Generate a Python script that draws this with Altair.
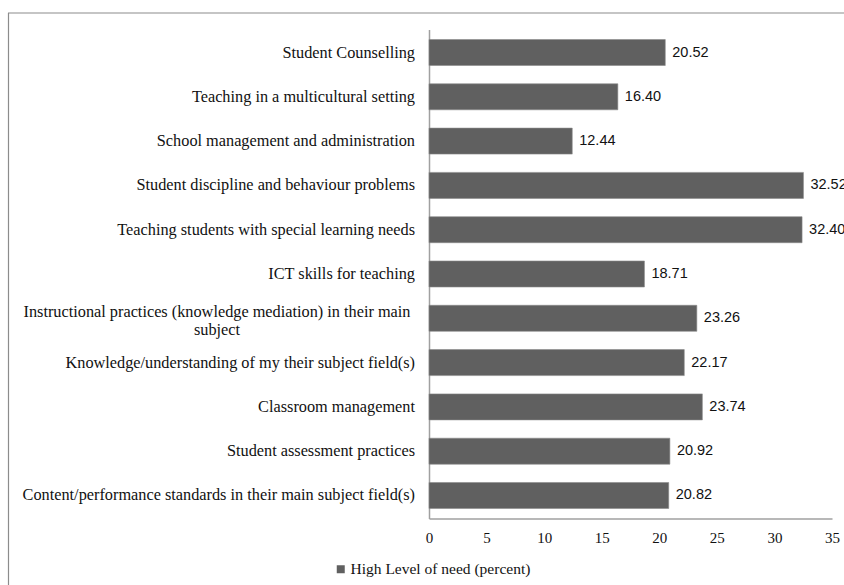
import altair as alt
import pandas as pd

categories = [
    "Student Counselling",
    "Teaching in a multicultural setting",
    "School management and administration",
    "Student discipline and behaviour problems",
    "Teaching students with special learning needs",
    "ICT skills for teaching",
    "Instructional practices (knowledge mediation) in their main subject",
    "Knowledge/understanding of my their subject field(s)",
    "Classroom management",
    "Student assessment practices",
    "Content/performance standards in their main subject field(s)",
]
values = [20.52, 16.40, 12.44, 32.52, 32.40, 18.71, 23.26, 22.17, 23.74, 20.92, 20.82]
series_name = "High Level of need (percent)"
x_ticks = [0, 5, 10, 15, 20, 25, 30, 35]

wrapped = {
    "Instructional practices (knowledge mediation) in their main subject":
        ["Instructional practices (knowledge mediation) in their main", "subject"],
}

df = pd.DataFrame({
    "category": categories,
    "value": values,
    "series": [series_name] * len(categories),
    "multi": [c in wrapped for c in categories],
})
df["label1"] = [c if c not in wrapped else "" for c in categories]
df["labelm"] = [wrapped[c] if c in wrapped else [""] for c in categories]

SERIF = "Liberation Serif"
SANS = "Liberation Sans"
BAR = "#606060"

y_enc = alt.Y(
    "category:N", sort=categories,
    scale=alt.Scale(paddingInner=0.413, paddingOuter=0.226),
    axis=alt.Axis(labels=False, ticks=False, title=None, domainColor="#a0a0a0", domainWidth=1.5),
)

bars = alt.Chart(df).mark_bar(color=BAR, stroke="#8a8a8a", strokeWidth=0.6).encode(
    x=alt.X("value:Q", scale=alt.Scale(domain=[0, 35], nice=False, zero=True),
            axis=alt.Axis(values=x_ticks, ticks=False, grid=False, title=None,
                          labelFont=SERIF, labelFontSize=15, labelColor="#111",
                          labelPadding=12, domainColor="#a0a0a0", domainWidth=1.5,
                          labelFlush=False)),
    y=y_enc,
    color=alt.Color("series:N", scale=alt.Scale(range=[BAR]),
                    legend=alt.Legend(orient="none", legendX=-96, legendY=532,
                                      title=None, symbolType="square", symbolSize=64,
                                      symbolStrokeWidth=0, labelFont=SERIF, labelFontSize=15.5,
                                      labelColor="#111", labelOffset=2, labelLimit=0)),
)

value_labels = alt.Chart(df).mark_text(
    align="left", baseline="middle", dx=7, font=SANS, fontSize=14.5, color="#111"
).encode(
    x="value:Q",
    y=alt.Y("category:N", sort=categories),
    text=alt.Text("value:Q", format=".2f"),
)

cat_labels = alt.Chart(df).mark_text(
    align="right", baseline="middle", font=SERIF, fontSize=16.3, color="#111"
).encode(
    x=alt.value(-14),
    y=alt.Y("category:N", sort=categories),
    text="label1:N",
)

multi_labels = alt.Chart(df).transform_filter("datum.multi").mark_text(
    align="center", baseline="middle", font=SERIF, fontSize=16.3, color="#111",
    lineHeight=17.6, dy=-6.3
).encode(
    x=alt.value(-212),
    y=alt.Y("category:N", sort=categories),
    text="labelm",
)

frame = alt.Data(values=[{"k": 1}])
top_border = alt.Chart(frame).mark_rule(color="#8c8c8c", strokeWidth=1.2).encode(
    x=alt.value(-421), x2=alt.value(430), y=alt.value(-16.5)
)
left_border = alt.Chart(frame).mark_rule(color="#8c8c8c", strokeWidth=1.2).encode(
    x=alt.value(-420.5), y=alt.value(-16.5), y2=alt.value(600)
)

chart = alt.layer(top_border, left_border, bars, value_labels, cat_labels, multi_labels).properties(
    width=403, height=489,
    autosize=alt.AutoSizeParams(type="none"),
    padding={"left": 429, "top": 29.5, "right": 12, "bottom": 66.5},
    background="white",
).configure_view(stroke=None)

chart.save("out.html", embed_options={"renderer": "svg", "actions": False})
